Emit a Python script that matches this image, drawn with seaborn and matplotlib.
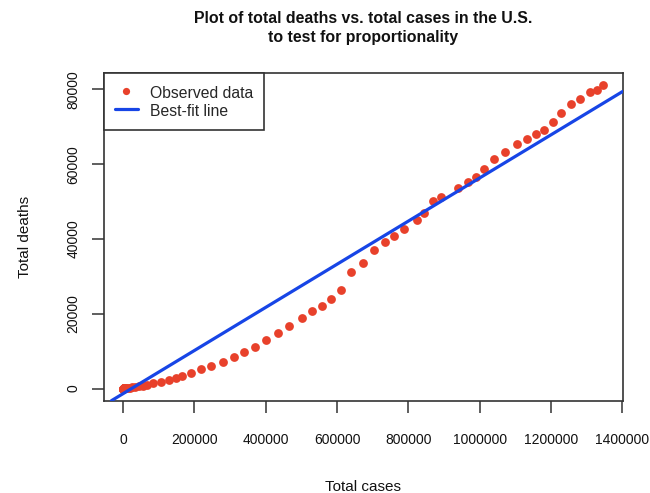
import matplotlib
matplotlib.use("Agg")
import matplotlib.pyplot as plt
from matplotlib.lines import Line2D
import numpy as np
import pandas as pd
import seaborn as sns

# ---- data ----
total_cases = [
    100, 150, 250, 400, 550, 750, 1000, 1300, 1700, 2200, 2900, 3700, 4700,
    6500, 9300, 13800, 19400, 24500, 33600, 43800, 54900, 68200,
    84100, 105700, 128100, 147700, 166000, 189800, 219200, 247300, 278700,
    312300, 338400, 369200, 400000, 433700, 465900, 501800, 531000, 557900,
    584200, 610300, 639200, 672000, 702800, 735600, 760900, 788900, 825300,
    843000, 869100, 891200, 939700, 966300, 988800, 1012000, 1039200,
    1070100, 1103700, 1132600, 1157800, 1180200, 1204600, 1229000, 1257000,
    1283100, 1309200, 1330000, 1347600,
]
total_deaths = [
    1, 6, 10, 12, 15, 19, 22, 26, 30, 38, 42, 50, 60,
    90, 150, 210, 260, 300, 420, 560, 780, 1030,
    1443, 1790, 2325, 2725, 3313, 4275, 5130, 6065, 7215,
    8524, 9726, 11089, 12959, 14883, 16834, 18971, 20761, 22178,
    23888, 26293, 31102, 33507, 37141, 39118, 40802, 42672, 45157,
    47027, 50234, 51303, 53547, 55124, 56567, 58624, 61296,
    63327, 65304, 66720, 67976, 69205, 71343, 73667, 75992,
    77408, 79198, 79893, 81069,
]
fit_intercept = -1340.0
fit_slope = 0.05765

x_ticks = [0, 200000, 400000, 600000, 800000, 1000000, 1200000, 1400000]
y_ticks = [0, 20000, 40000, 60000, 80000]

title_line1 = "Plot of total deaths vs. total cases in the U.S."
title_line2 = "to test for proportionality"
x_label = "Total cases"
y_label = "Total deaths"
legend_labels = ["Observed data", "Best-fit line"]

df = pd.DataFrame({"cases": total_cases, "deaths": total_deaths})

# ---- style ----
sns.set_style("white")
plt.rcParams["font.family"] = ["Liberation Sans", "DejaVu Sans"]

W, H = 650, 493
fig = plt.figure(figsize=(W / 100, H / 100), dpi=100)
left, right, top, bottom = 104, 622.7, 73.3, 400.7
ax = fig.add_axes([left / W, 1 - bottom / H, (right - left) / W, (bottom - top) / H])

dot_color = "#E8412B"
line_color = "#1745E6"
frame_color = "#333333"

sns.scatterplot(data=df, x="cases", y="deaths", ax=ax, color=dot_color,
                s=40, linewidth=0, zorder=3, legend=False)
ax.axline((0, fit_intercept), slope=fit_slope, color=line_color, lw=2.3, zorder=4)

# R-style 4% axis extension
xmin, xmax = min(total_cases), max(total_cases)
ymin, ymax = min(total_deaths), max(total_deaths)
xr, yr = xmax - xmin, ymax - ymin
ax.set_xlim(xmin - 0.04 * xr, xmax + 0.04 * xr)
ax.set_ylim(ymin - 0.04 * yr, ymax + 0.04 * yr)

ax.set_xticks(x_ticks)
ax.set_xticklabels([str(t) for t in x_ticks])
ax.set_yticks(y_ticks)
ax.set_yticklabels([str(t) for t in y_ticks])

for sp in ax.spines.values():
    sp.set_visible(True)
    sp.set_color(frame_color)
    sp.set_linewidth(1.2)

ax.tick_params(axis="both", direction="out", length=8.6, width=1.1,
               color=frame_color, labelsize=10, labelcolor="#111111")
ax.tick_params(axis="x", pad=15, bottom=True)
ax.tick_params(axis="y", pad=8.5, left=True)
for lab in ax.get_yticklabels():
    lab.set_rotation(90)
    lab.set_va("center")
    lab.set_ha("right")

ax.set_xlabel(x_label, fontsize=11, color="#111111")
ax.set_ylabel(y_label, fontsize=11, color="#111111")
ax.xaxis.label.set_va("center")
ax.yaxis.label.set_va("center")
ax.xaxis.set_label_coords(0.5, (bottom - 487) / (bottom - top))
ax.yaxis.set_label_coords((25 - left) / (right - left), 0.5)

cx = (left + right) / 2 / W
fig.text(cx, 1 - 18.5 / H, title_line1, ha="center", va="center",
         fontsize=11.4, fontweight="bold", color="#111111")
fig.text(cx, 1 - 37.5 / H, title_line2, ha="center", va="center",
         fontsize=11.4, fontweight="bold", color="#111111")

handles = [
    Line2D([], [], marker="o", color=dot_color, linestyle="none", markersize=5.2,
           markeredgewidth=0),
    Line2D([], [], color=line_color, lw=2.3),
]
leg = ax.legend(handles, legend_labels, loc="upper left", borderaxespad=0,
                fontsize=11.3, handlelength=1.5, handleheight=1.35,
                handletextpad=0.75, labelspacing=0.0, borderpad=0.68,
                fancybox=False, frameon=True, framealpha=1)
leg.get_frame().set_edgecolor(frame_color)
leg.get_frame().set_linewidth(1.2)
leg.set_zorder(5)

fig.savefig("out.png", dpi=100, facecolor="white")
